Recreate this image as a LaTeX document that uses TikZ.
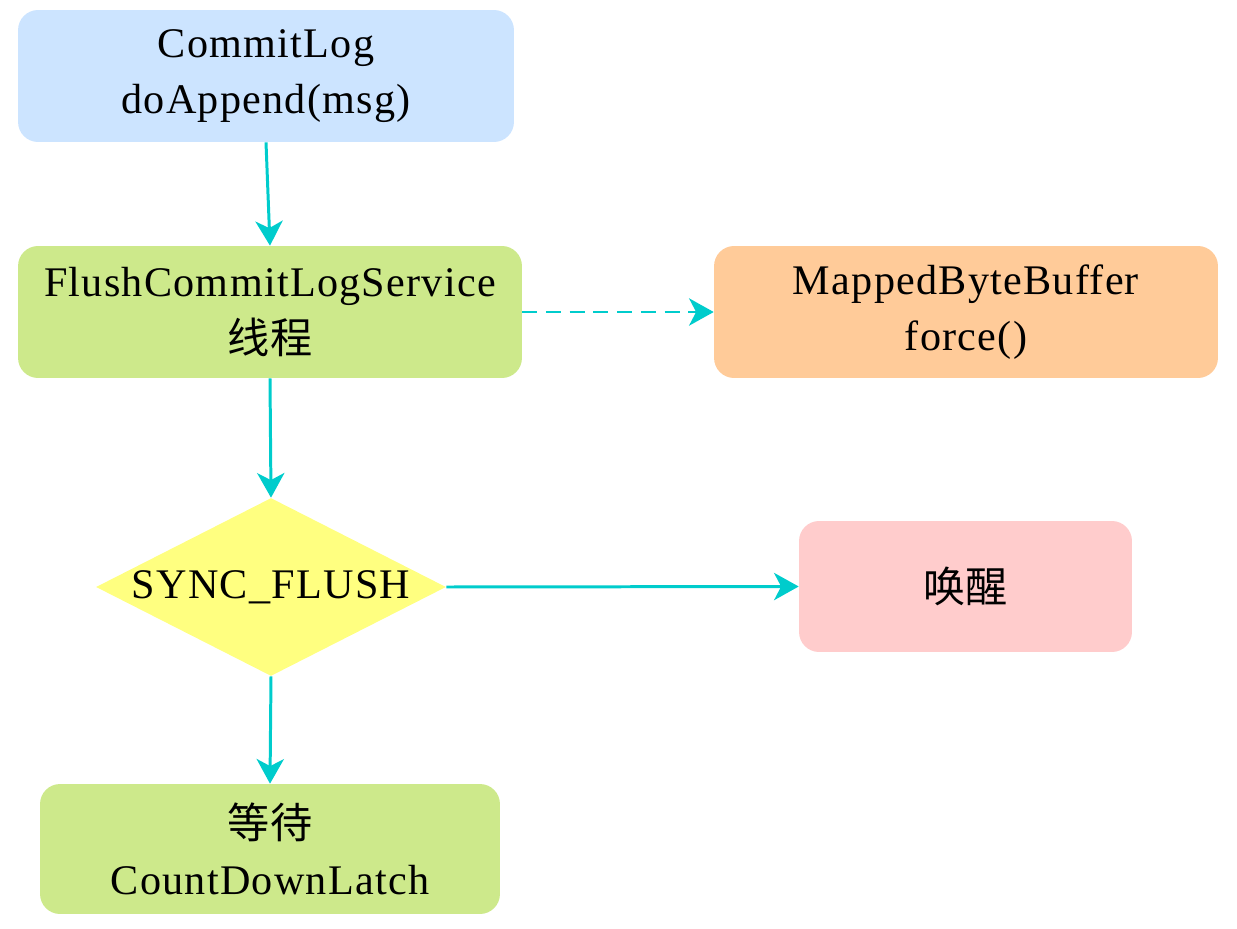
\documentclass[tikz,border=0pt]{standalone}
\usepackage{fontspec}
\setmainfont{Liberation Serif}[LetterSpace=3]
\newfontfamily\cjk{Noto Sans CJK SC}
\usetikzlibrary{shapes.geometric,arrows.meta}
\definecolor{cblue}{RGB}{204,228,255}
\definecolor{cgreen}{RGB}{205,233,139}
\definecolor{corange}{RGB}{255,203,153}
\definecolor{cyellow}{RGB}{255,255,128}
\definecolor{cpink}{RGB}{255,204,204}
\definecolor{ccyan}{RGB}{0,204,204}
\tikzset{
  box/.style={rounded corners=0.4cm, draw=none, align=center, inner sep=0pt,
    font=\fontsize{24}{32}\selectfont},
  dia/.style={diamond, aspect=1.966, fill=cyellow, draw=none, inner sep=0pt, align=center,
    font=\fontsize{24}{32}\selectfont},
  conn/.style={draw=ccyan, line width=1.7pt, -{Stealth[length=14pt,width=15.5pt,inset=4pt]}},
  dconn/.style={conn, dash pattern=on 8.5pt off 5pt}
}
\begin{document}
\begin{tikzpicture}[x=0.02cm,y=-0.02cm]
\useasboundingbox (0,0) rectangle (1237,929);
\node[box, fill=cblue, minimum width=9.92cm, minimum height=2.64cm] (cl) at (266,76) {CommitLog\\doAppend(msg)};
\node[box, fill=cgreen, minimum width=10.08cm, minimum height=2.64cm] (fs) at (270,312) {FlushCommitLogService\\{\cjk 线程}};
\node[box, fill=corange, minimum width=10.08cm, minimum height=2.64cm] (mb) at (966,312) {MappedByteBuffer\\force()};
\node[dia, minimum width=7cm, minimum height=3.56cm] (sf) at (271,587) {SYNC\_FLUSH};
\node[box, fill=cpink, minimum width=6.66cm, minimum height=2.62cm] (hx) at (965.5,586.5) {\cjk 唤醒};
\node[box, fill=cgreen, minimum width=9.2cm, minimum height=2.6cm] (dd) at (270,849) {{\cjk 等待}\\CountDownLatch};
\draw[conn] (cl.south) -- (fs.north);
\draw[dconn] (fs.east) -- (mb.west);
\draw[conn] (fs.south) -- (sf.north);
\draw[conn] (sf.east) -- (hx.west);
\draw[conn] (sf.south) -- (dd.north);
\end{tikzpicture}
\end{document}
